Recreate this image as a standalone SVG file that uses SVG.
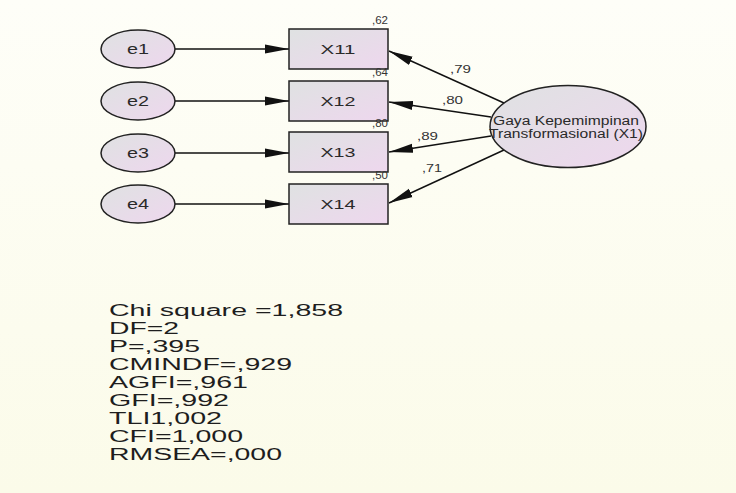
<svg xmlns="http://www.w3.org/2000/svg" width="736" height="493" viewBox="0 0 736 493">
<defs>
<linearGradient id="gfill" x1="0" y1="0" x2="1" y2="1">
<stop offset="0" stop-color="#dfe2e2"/>
<stop offset="1" stop-color="#eed7ee"/>
</linearGradient>
<linearGradient id="bg" x1="0" y1="0" x2="0" y2="1">
<stop offset="0" stop-color="#fefef8"/>
<stop offset="1" stop-color="#fbfbe9"/>
</linearGradient>
<marker id="ah" markerUnits="userSpaceOnUse" markerWidth="26" markerHeight="10" refX="24" refY="5" orient="auto">
<path d="M0,0.5 L24,5 L0,9.5 z" fill="#111"/>
</marker>
<style>
.shape{fill:url(#gfill);stroke:#222;stroke-width:1.5}
.lbl{font-family:"Liberation Sans",Arial,sans-serif;fill:#2a2a2a;text-anchor:middle}
.sm{font-family:"Liberation Sans",Arial,sans-serif;fill:#333;font-size:11px}
.st{font-family:"Liberation Sans",Arial,sans-serif;fill:#1e1e1e;font-size:16px}
.con{stroke:#111;stroke-width:1.4;fill:none;marker-end:url(#ah)}
</style>
</defs>
<rect width="736" height="493" fill="url(#bg)"/>

<g id="connectors">
<line class="con" x1="175" y1="49" x2="289" y2="49"/>
<line class="con" x1="175" y1="101" x2="289" y2="101"/>
<line class="con" x1="175" y1="153" x2="289" y2="153"/>
<line class="con" x1="175" y1="204" x2="289" y2="204"/>
<line class="con" x1="504" y1="103" x2="389" y2="51"/>
<line class="con" x1="491" y1="117" x2="389" y2="102"/>
<line class="con" x1="491" y1="136" x2="389" y2="152"/>
<line class="con" x1="504" y1="150" x2="389" y2="203"/>
<text class="sm" x="450" y="73" textLength="21" lengthAdjust="spacingAndGlyphs">,79</text>
<text class="sm" x="442" y="104" textLength="21" lengthAdjust="spacingAndGlyphs">,80</text>
<text class="sm" x="417" y="140" textLength="21" lengthAdjust="spacingAndGlyphs">,89</text>
<text class="sm" x="422" y="172" textLength="20" lengthAdjust="spacingAndGlyphs">,71</text>
</g>

<g id="e1"><ellipse class="shape" cx="138" cy="49" rx="37" ry="19"/><text class="lbl" x="138" y="54" font-size="14" textLength="22" lengthAdjust="spacingAndGlyphs">e1</text></g>
<g id="e2"><ellipse class="shape" cx="138" cy="101" rx="37" ry="19"/><text class="lbl" x="138" y="106" font-size="14" textLength="22" lengthAdjust="spacingAndGlyphs">e2</text></g>
<g id="e3"><ellipse class="shape" cx="138" cy="153" rx="37" ry="19"/><text class="lbl" x="138" y="158" font-size="14" textLength="22" lengthAdjust="spacingAndGlyphs">e3</text></g>
<g id="e4"><ellipse class="shape" cx="138" cy="204" rx="37" ry="19"/><text class="lbl" x="138" y="209" font-size="14" textLength="22" lengthAdjust="spacingAndGlyphs">e4</text></g>

<g id="X11"><rect class="shape" x="289" y="29" width="99" height="40"/><text class="lbl" x="338" y="53.5" font-size="13" textLength="35" lengthAdjust="spacingAndGlyphs">X11</text><text class="sm" x="372" y="24" textLength="16" lengthAdjust="spacingAndGlyphs">,62</text></g>
<g id="X12"><rect class="shape" x="289" y="81" width="99" height="40"/><text class="lbl" x="338" y="105.5" font-size="13" textLength="35" lengthAdjust="spacingAndGlyphs">X12</text><text class="sm" x="372" y="76" textLength="16" lengthAdjust="spacingAndGlyphs">,64</text></g>
<g id="X13"><rect class="shape" x="289" y="132" width="99" height="40"/><text class="lbl" x="338" y="156.5" font-size="13" textLength="35" lengthAdjust="spacingAndGlyphs">X13</text><text class="sm" x="372" y="127" textLength="16" lengthAdjust="spacingAndGlyphs">,80</text></g>
<g id="X14"><rect class="shape" x="289" y="184" width="99" height="40"/><text class="lbl" x="338" y="208.5" font-size="13" textLength="35" lengthAdjust="spacingAndGlyphs">X14</text><text class="sm" x="372" y="179" textLength="16" lengthAdjust="spacingAndGlyphs">,50</text></g>

<g id="X1"><ellipse class="shape" cx="568" cy="126.5" rx="78" ry="41"/>
<text class="lbl" x="566" y="125" font-size="12" textLength="146" lengthAdjust="spacingAndGlyphs">Gaya Kepemimpinan</text>
<text class="lbl" x="566" y="138" font-size="12" textLength="154" lengthAdjust="spacingAndGlyphs">Transformasional (X1)</text>
</g>

<g id="fit">
<text class="st" x="109" y="316" textLength="234" lengthAdjust="spacingAndGlyphs">Chi square =1,858</text>
<text class="st" x="109" y="334" textLength="70" lengthAdjust="spacingAndGlyphs">DF=2</text>
<text class="st" x="109" y="352" textLength="91" lengthAdjust="spacingAndGlyphs">P=,395</text>
<text class="st" x="109" y="370" textLength="183" lengthAdjust="spacingAndGlyphs">CMINDF=,929</text>
<text class="st" x="109" y="388" textLength="139" lengthAdjust="spacingAndGlyphs">AGFI=,961</text>
<text class="st" x="109" y="406" textLength="120" lengthAdjust="spacingAndGlyphs">GFI=,992</text>
<text class="st" x="109" y="424" textLength="113" lengthAdjust="spacingAndGlyphs">TLI1,002</text>
<text class="st" x="109" y="442" textLength="134" lengthAdjust="spacingAndGlyphs">CFI=1,000</text>
<text class="st" x="109" y="460" textLength="173" lengthAdjust="spacingAndGlyphs">RMSEA=,000</text>
</g>
</svg>
